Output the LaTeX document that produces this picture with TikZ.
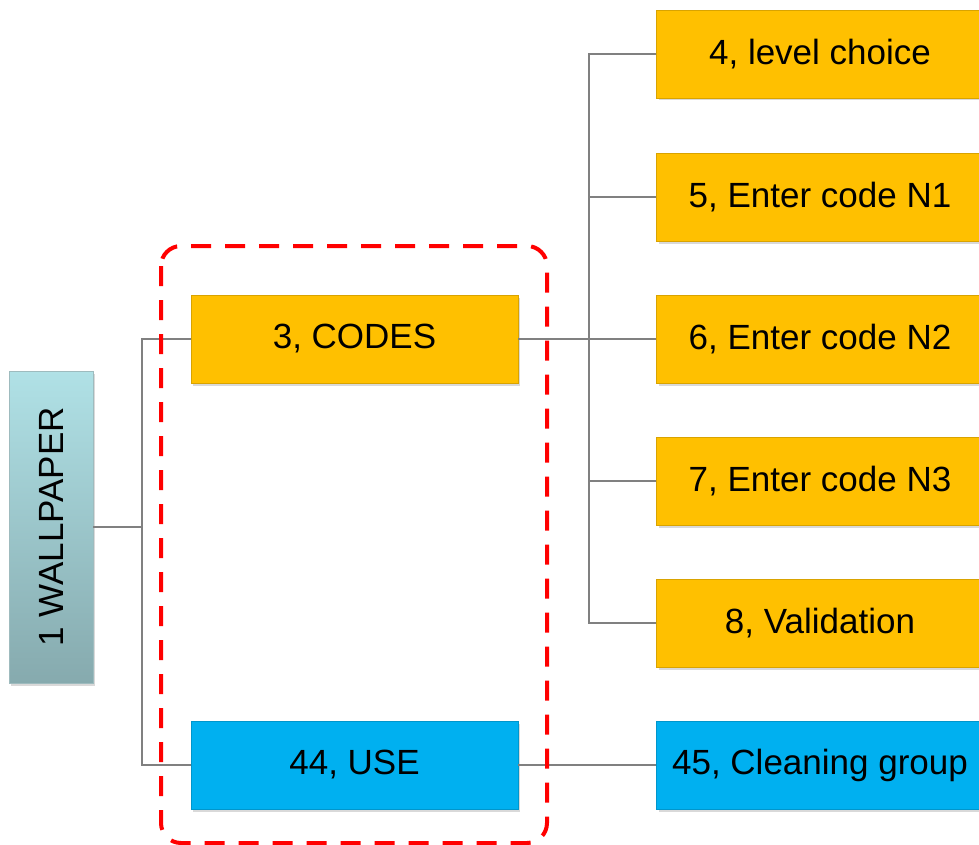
\documentclass[tikz,border=0pt]{standalone}
\usepackage{fontspec}
\setmainfont{Liberation Sans}
\usepackage{xcolor}
\usepackage{tikz}
\usetikzlibrary{
    shadows,
    calc,
    positioning
}
\definecolor{codeorange}{RGB}{255,192,0}
\definecolor{useblue}{RGB}{0,176,240}
\definecolor{walltop}{RGB}{176,225,230}
\definecolor{wallbottom}{RGB}{134,170,174}
\definecolor{linkgray}{RGB}{128,128,128}
\definecolor{framered}{RGB}{255,0,0}
\tikzset{
    menubox/.style={
        rectangle,
        fill=codeorange,
        draw=codeorange!85!black,
        line width=0.4pt,
        minimum width=327pt,
        minimum height=88pt,
        inner sep=0pt,
        text centered,
        font=\fontsize{35}{42}\selectfont,
        drop shadow={shadow xshift=2pt, shadow yshift=-2.5pt, opacity=0.3}
    },
    usebox/.style={
        menubox,
        fill=useblue,
        draw=useblue!85!black
    },
    rootbox/.style={
        rectangle,
        top color=walltop,
        bottom color=wallbottom,
        draw=wallbottom!80!white,
        line width=0.6pt,
        minimum width=84pt,
        minimum height=312pt,
        inner sep=0pt,
        font=\fontsize{35}{42}\selectfont,
        drop shadow={shadow xshift=2pt, shadow yshift=-2.5pt, opacity=0.3}
    },
    link/.style={
        draw=linkgray,
        line width=2pt
    },
    groupframe/.style={
        draw=framered,
        line width=4pt,
        dash pattern=on 20pt off 14pt,
        rounded corners=20pt
    }
}

\begin{document}
\begin{tikzpicture}[x=1pt, y=-1pt]
    \useasboundingbox (0,0) rectangle (979,845);
    \clip (0,0) rectangle (979,845);

    % Root
    \node[rootbox] (wall) at (51,527) {\rotatebox{90}{1 WALLPAPER}};

    % Second level
    \node[menubox] (codes) at (354.5,339) {3, CODES};
    \node[usebox] (use) at (354.5,765) {44, USE};

    % Third level
    \foreach \name/\ypos/\text in {
        c4/54/{4, level choice},
        c5/197/{5, Enter code N1},
        c6/339/{6, Enter code N2},
        c7/481/{7, Enter code N3},
        c8/623/{8, Validation}%
    } {
        \node[menubox] (\name) at (820,\ypos) {\text};
    }
    \node[usebox] (c45) at (820,765) {45, Cleaning group};

    % Connectors
    \coordinate (tr1) at (142,527);
    \coordinate (tr2) at (589,339);
    \draw[link] (wall.east) -- (tr1);
    \draw[link] (codes.west) -| (tr1) |- (use.west);
    \draw[link] (codes.east) -- (c6.west);
    \draw[link] (c4.west) -| (tr2) |- (c8.west);
    \draw[link] (c5.west) -- (c5.west -| tr2);
    \draw[link] (c7.west) -- (c7.west -| tr2);
    \draw[link] (use.east) -- (c45.west);

    % Group frame
    \draw[groupframe] (161,246) rectangle (547,843);
\end{tikzpicture}
\end{document}
